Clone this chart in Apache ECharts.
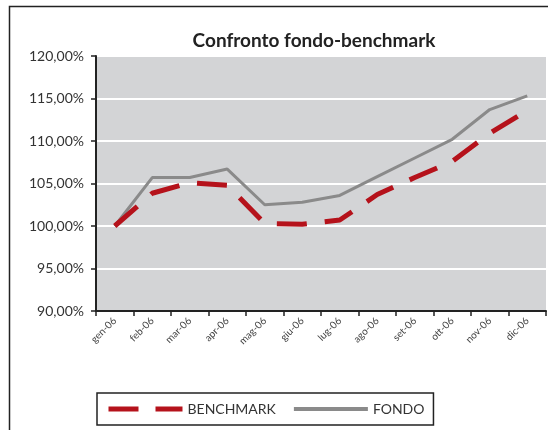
<!DOCTYPE html>
<html>
<head>
<meta charset="utf-8">
<script src="https://cdn.jsdelivr.net/npm/echarts@6/dist/echarts.min.js"></script>
<style>
    html, body {margin: 0; padding: 0; background: #fff;}
    #chart {width: 548px; height: 430px;}
</style>
</head>
<body>
<div id="chart"></div>
<script>
// dati
var mesi = ['gen-06', 'feb-06', 'mar-06', 'apr-06', 'mag-06', 'giu-06', 'lug-06', 'ago-06', 'set-06', 'ott-06', 'nov-06', 'dic-06'];
var benchmark = [100.0, 103.85, 105.1, 104.8, 100.3, 100.2, 100.7, 103.7, 105.7, 107.6, 110.9, 113.6];
var fondo = [100.0, 105.7, 105.7, 106.7, 102.5, 102.8, 103.6, 105.8, 108.0, 110.2, 113.7, 115.3];

var fontFam = 'Lato, "DejaVu Sans", sans-serif';

// formato italiano 120,00%
function formatPerc(val) {
    return val.toFixed(2).replace('.', ',') + '%';
}

var chart = echarts.init(document.getElementById('chart'));

var option = {
    animation: false,
    backgroundColor: '#fff',
    textStyle: {fontFamily: fontFam},
    title: {
        text: 'Confronto fondo-benchmark',
        left: 309,
        textAlign: 'center',
        top: 26,
        textStyle: {fontSize: 19, fontWeight: 'bold', color: '#222', fontFamily: fontFam}
    },
    graphic: [
        {   // cornice esterna
            type: 'rect',
            shape: {x: 9.5, y: 6.5, width: 600, height: 500},
            style: {fill: 'none', stroke: '#222', lineWidth: 1.5},
            silent: true
        }
    ],
    legend: {
        left: 97,
        top: 393,
        data: [
            {name: 'BENCHMARK', lineStyle: {width: 5, type: [30, 17]}},
            {name: 'FONDO', lineStyle: {width: 4}}
        ],
        itemWidth: 74,
        itemHeight: 6,
        itemGap: 16,
        padding: [9, 9, 9, 9],
        borderColor: '#222',
        borderWidth: 1.5,
        itemStyle: {opacity: 0},
        textStyle: {fontSize: 14, color: '#333', fontFamily: fontFam}
    },
    grid: {
        left: 96,
        right: 2,
        top: 56,
        bottom: 119,
        show: true,
        backgroundColor: '#d3d4d6',
        borderWidth: 0,
        outerBoundsMode: 'none'
    },
    xAxis: {
        type: 'category',
        data: mesi,
        boundaryGap: true,
        axisLine: {lineStyle: {color: '#222', width: 2}},
        axisTick: {show: true, length: 5, lineStyle: {color: '#222', width: 1.5}},
        axisLabel: {
            interval: 0,
            rotate: 45,
            fontSize: 10,
            color: '#444',
            margin: 8,
            fontFamily: fontFam
        },
        splitLine: {show: false}
    },
    yAxis: {
        type: 'value',
        min: 90,
        max: 120,
        interval: 5,
        axisLine: {show: true, lineStyle: {color: '#222', width: 2}},
        axisTick: {show: true, length: 5, lineStyle: {color: '#222', width: 1.5}},
        axisLabel: {
            formatter: formatPerc,
            fontSize: 14,
            color: '#333',
            margin: 12,
            fontFamily: fontFam
        },
        splitLine: {show: true, lineStyle: {color: '#fff', width: 2}}
    },
    series: [
        {
            name: 'BENCHMARK',
            type: 'line',
            data: benchmark,
            symbol: 'none',
            color: '#b5121b',
            lineStyle: {color: '#b5121b', width: 5, type: [30, 18]},
            z: 3
        },
        {
            name: 'FONDO',
            type: 'line',
            data: fondo,
            symbol: 'none',
            color: '#8a8a8a',
            lineStyle: {color: '#8a8a8a', width: 3, type: 'solid'},
            z: 2
        }
    ]
};

chart.setOption(option);
</script>
</body>
</html>
